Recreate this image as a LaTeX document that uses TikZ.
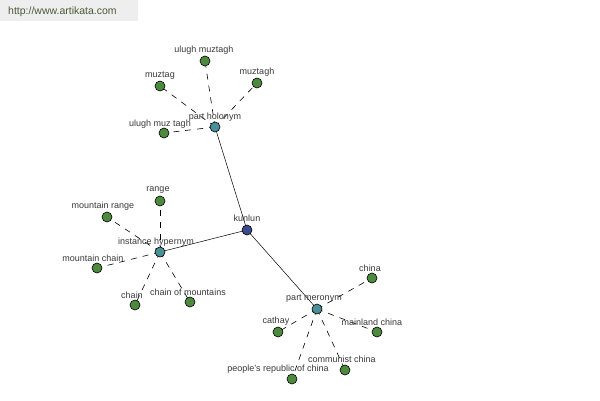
\documentclass[tikz,border=0pt]{standalone}
\usepackage{fontspec}
\setmainfont{Liberation Sans}
\begin{document}
\begin{tikzpicture}[x=1pt,y=-1pt,
  leaf/.style={circle,draw=black,fill=leafgreen,minimum size=10pt,inner sep=0pt,line width=0.6pt},
  hub/.style={circle,draw=black,fill=hubteal,minimum size=10pt,inner sep=0pt,line width=0.6pt},
  root/.style={circle,draw=black,fill=rootblue,minimum size=10pt,inner sep=0pt,line width=0.6pt},
  lbl/.style={font=\fontsize{9}{10}\selectfont,text=labelgray,inner sep=0pt,yshift=-1.5pt},
  rel/.style={draw=black,line width=0.5pt},
  syn/.style={draw=black,line width=0.6pt,dash pattern=on 6pt off 6pt}]
\definecolor{leafgreen}{HTML}{4E8A3E}
\definecolor{hubteal}{HTML}{4A9098}
\definecolor{rootblue}{HTML}{3A4A8E}
\definecolor{labelgray}{HTML}{3A3A3A}
\definecolor{headbg}{HTML}{EEEEEE}
\definecolor{headtext}{HTML}{4A5A3A}
\useasboundingbox (0,0) rectangle (600,400);
\fill[white] (0,0) rectangle (600,400);
\fill[headbg] (0,0) rectangle (138,21);
\node[font=\fontsize{10.5}{12}\selectfont,text=headtext,anchor=west,inner sep=0pt] (url) at (8,11.5) {http://www.artikata.com};

% nodes
\coordinate (kp) at (247,230);
\coordinate (hp) at (215,127);
\coordinate (ip) at (160,252);
\coordinate (mp) at (317,309);

% edges first
\path[rel] (kp) -- (hp);
\path[rel] (kp) -- (ip);
\path[rel] (kp) -- (mp);
\path[syn] (hp) -- (205,61);
\path[syn] (hp) -- (160,86);
\path[syn] (hp) -- (257,83);
\path[syn] (hp) -- (164,133);
\path[syn] (ip) -- (160,201);
\path[syn] (ip) -- (107,217);
\path[syn] (ip) -- (97,268);
\path[syn] (ip) -- (135,305);
\path[syn] (ip) -- (190,302);
\path[syn] (mp) -- (372,278);
\path[syn] (mp) -- (278,332);
\path[syn] (mp) -- (377,332);
\path[syn] (mp) -- (345,370);
\path[syn] (mp) -- (292,379);

\node[root] (kunlun) at (kp) {};
\node[hub] (holo) at (hp) {};
\node[hub] (hyper) at (ip) {};
\node[hub] (mero) at (mp) {};

\node[leaf] (um1) at (205,61) {};
\node[leaf] (mzg) at (160,86) {};
\node[leaf] (mzh) at (257,83) {};
\node[leaf] (um2) at (164,133) {};
\node[leaf] (rng) at (160,201) {};
\node[leaf] (mrg) at (107,217) {};
\node[leaf] (mch) at (97,268) {};
\node[leaf] (chn) at (135,305) {};
\node[leaf] (com) at (190,302) {};
\node[leaf] (cna) at (372,278) {};
\node[leaf] (cat) at (278,332) {};
\node[leaf] (mld) at (377,332) {};
\node[leaf] (cmc) at (345,370) {};
\node[leaf] (prc) at (292,379) {};

% labels
\node[lbl] (lk) at (247,217) {kunlun};
\node[lbl] (lh) at (215,116) {part holonym};
\node[lbl] (li) at (156,241) {instance hypernym};
\node[lbl] (lm) at (314,297) {part meronym};
\node[lbl] (l1) at (204,49) {ulugh muztagh};
\node[lbl] (l2) at (160,74) {muztag};
\node[lbl] (l3) at (257,71) {muztagh};
\node[lbl] (l4) at (160,123) {ulugh muz tagh};
\node[lbl] (l5) at (158,189) {range};
\node[lbl] (l6) at (103,205) {mountain range};
\node[lbl] (l7) at (93,257) {mountain chain};
\node[lbl] (l8) at (132,294) {chain};
\node[lbl] (l9) at (188,291) {chain of mountains};
\node[lbl] (l10) at (370,267) {china};
\node[lbl] (l11) at (276,320) {cathay};
\node[lbl] (l12) at (372,321) {mainland china};
\node[lbl] (l13) at (342,358) {communist china};
\node[lbl] (l14) at (278,368) {people's republic of china};
\end{tikzpicture}
\end{document}
